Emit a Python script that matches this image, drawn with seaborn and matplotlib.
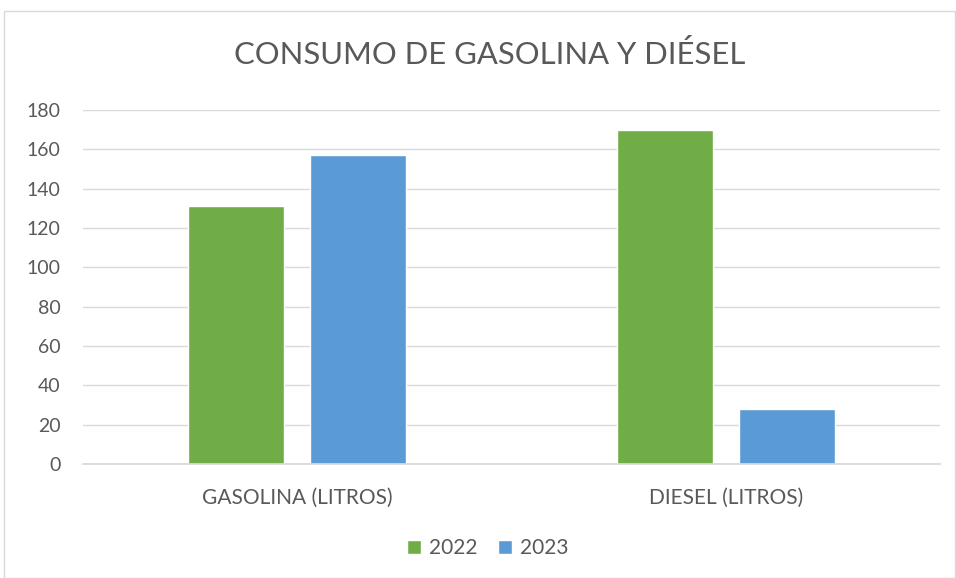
import matplotlib
matplotlib.use("Agg")
import matplotlib.pyplot as plt
import seaborn as sns
import pandas as pd
from matplotlib.patches import Rectangle

categories = ["GASOLINA (LITROS)", "DIESEL (LITROS)"]
years = ["2022", "2023"]
values_2022 = [131, 170]
values_2023 = [157, 28]
yticks = [0, 20, 40, 60, 80, 100, 120, 140, 160, 180]

df = pd.DataFrame({
    "cat": categories * 2,
    "year": [years[0]] * 2 + [years[1]] * 2,
    "value": values_2022 + values_2023,
})

sns.set_theme(style="white")
plt.rcParams["font.family"] = ["Lato", "DejaVu Sans"]
txt = "#595959"

fig = plt.figure(figsize=(9.56, 5.78), dpi=100)
ax = fig.add_axes([83/956, 1 - 464/578, (940-83)/956, (464-110)/578])

sns.barplot(data=df, x="cat", y="value", hue="year", order=categories,
            hue_order=years, palette=["#70AD47", "#5B9BD5"], width=0.569,
            gap=0.213, saturation=1, ax=ax, legend=True)

ax.set_ylim(0, 180)
ax.set_xlim(-0.5, 1.5)
ax.set_yticks(yticks)
ax.grid(axis="y", color="#D9D9D9", linewidth=1)
ax.set_axisbelow(True)
for s in ["top", "right", "left"]:
    ax.spines[s].set_visible(False)
ax.spines["bottom"].set_color("#D9D9D9")
ax.tick_params(axis="both", colors=txt, length=0)
ax.tick_params(axis="x", pad=17, labelsize=15)
ax.tick_params(axis="y", pad=16, labelsize=14)
for lab in ax.get_yticklabels() + ax.get_xticklabels():
    lab.set_color(txt)
ax.set_xlabel("")
ax.set_ylabel("")

leg = ax.legend(loc="center", bbox_to_anchor=(488/956, 1 - 548/578),
                bbox_transform=fig.transFigure, ncol=2, frameon=False,
                fontsize=15, handlelength=0.65, handleheight=0.65,
                handletextpad=0.4, columnspacing=1.0)
for t in leg.get_texts():
    t.set_color(txt)

fig.text(490/956, 1 - 55/578, "CONSUMO DE GASOLINA Y DIÉSEL", ha="center",
         va="center", fontsize=22.3, color=txt)

fig.patches.append(Rectangle((4/956, 0), 951/956, 1 - 11/578,
                             transform=fig.transFigure, fill=False,
                             edgecolor="#D9D9D9", linewidth=1))

fig.savefig("out.png", dpi=100)
